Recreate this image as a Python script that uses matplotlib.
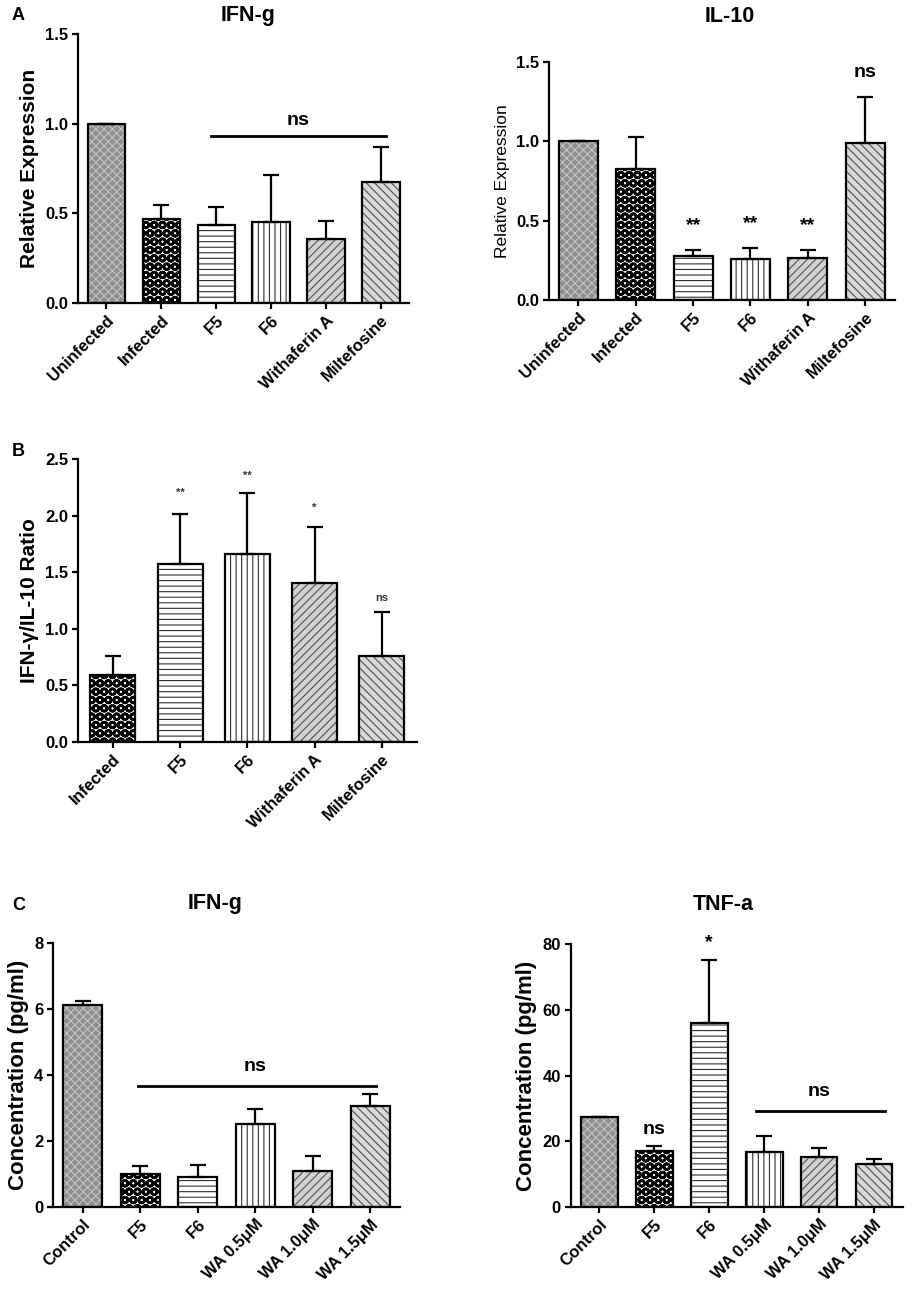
import numpy as np
import matplotlib
matplotlib.use("Agg")
import matplotlib.pyplot as plt

plt.rcParams['font.family'] = ['Liberation Sans', 'DejaVu Sans']
plt.rcParams['hatch.linewidth'] = 0.8

# ---- data ----
a_labels = ["Uninfected", "Infected", "F5", "F6", "Withaferin A", "Miltefosine"]
a_styles = ["gray", "dots", "hlines", "vlines", "diag", "adiag"]

ifn_rel = [1.00, 0.466, 0.436, 0.453, 0.356, 0.676]
ifn_rel_top = [1.00, 0.546, 0.538, 0.713, 0.458, 0.870]

il10_rel = [1.00, 0.827, 0.278, 0.257, 0.263, 0.990]
il10_rel_top = [1.00, 1.025, 0.316, 0.326, 0.316, 1.278]
il10_marks = ["", "", "**", "**", "**", "ns"]

b_labels = ["Infected", "F5", "F6", "Withaferin A", "Miltefosine"]
b_styles = ["dots", "hlines", "vlines", "diag", "adiag"]
ratio = [0.59, 1.57, 1.66, 1.40, 0.76]
ratio_top = [0.76, 2.01, 2.20, 1.90, 1.15]
ratio_marks = ["", "**", "**", "*", "ns"]
ratio_mark_y = [0, 2.20, 2.35, 2.07, 1.27]

c_labels = ["Control", "F5", "F6", "WA 0.5\u03bcM", "WA 1.0\u03bcM", "WA 1.5\u03bcM"]
c_styles = ["gray", "dots", "hlines", "vlines", "diag", "adiag"]
ifn_conc = [6.11, 1.01, 0.91, 2.52, 1.10, 3.07]
ifn_conc_top = [6.23, 1.25, 1.28, 2.97, 1.56, 3.42]
tnf_conc = [27.5, 17.1, 56.1, 16.7, 15.1, 13.1]
tnf_conc_top = [27.5, 18.6, 75.1, 21.7, 17.9, 14.6]

STYLE = {
    "gray":   dict(face="#8e8e8e", hatch="xxxx", hcolor="#c4c4c4"),
    "dots":   dict(face="white", hatch="OO", hcolor="black"),
    "hlines": dict(face="white", hatch="---", hcolor="#303030"),
    "vlines": dict(face="white", hatch="|||", hcolor="#303030"),
    "diag":   dict(face="#d2d2d2", hatch="////", hcolor="#505050"),
    "adiag":  dict(face="#dadada", hatch="\\\\\\\\", hcolor="#505050"),
}


def draw_bars(ax, vals, tops, styles, width=0.68):
    x = np.arange(len(vals))
    for xi, v, s in zip(x, vals, styles):
        st = STYLE[s]
        b = ax.bar(xi, v, width, color=st["face"], hatch=st["hatch"],
                   edgecolor=st["hcolor"], linewidth=0, zorder=2)
        if s == "dots":
            for p in b:
                if hasattr(p, "set_hatch_linewidth"):
                    p.set_hatch_linewidth(1.9)
        ax.bar(xi, v, width, fill=False, edgecolor="black", linewidth=1.6, zorder=3)
    err = np.array(tops) - np.array(vals)
    ax.errorbar(x, vals, yerr=[np.zeros(len(vals)), err], fmt="none",
                ecolor="black", elinewidth=1.6, capsize=5.5, capthick=1.6, zorder=4)
    return x


def style_axis(ax, labels, ylim, yticks, ylabel, tickfmt, ylabel_bold=True, ylsize=15):
    for side in ("top", "right"):
        ax.spines[side].set_visible(False)
    for side in ("left", "bottom"):
        ax.spines[side].set_linewidth(1.6)
    ax.set_xlim(-0.52, len(labels) - 0.48)
    ax.set_ylim(*ylim)
    ax.set_yticks(yticks)
    ax.set_yticklabels([tickfmt.format(t) for t in yticks], fontsize=12, fontweight="bold")
    ax.set_xticks(np.arange(len(labels)))
    ax.set_xticklabels(labels, rotation=45, ha="right", rotation_mode="anchor",
                       fontsize=12, fontweight="bold")
    ax.tick_params(axis="both", direction="out", length=4, width=1.6, pad=3)
    ax.set_ylabel(ylabel, fontsize=ylsize, fontweight="bold" if ylabel_bold else "normal")


fig = plt.figure(figsize=(9.16, 13.09), dpi=100)


def fig_title(xpix, ypix, s):
    fig.text(xpix / 916, 1 - ypix / 1309, s, fontsize=15.5, fontweight="bold",
             ha="center", va="center")


# ---- A: IFN-g relative expression ----
ax1 = fig.add_axes([0.085, 0.7685, 0.362, 0.2055])
draw_bars(ax1, ifn_rel, ifn_rel_top, a_styles)
style_axis(ax1, a_labels, (0, 1.5), [0, 0.5, 1.0, 1.5], "Relative Expression", "{:.1f}")
ax1.plot([1.9, 5.1], [0.93, 0.93], color="black", lw=2, zorder=5)
ax1.text(3.5, 0.97, "ns", ha="center", va="bottom", fontsize=14, fontweight="bold")
fig_title(248, 16, "IFN-g")

# ---- A: IL-10 relative expression ----
ax2 = fig.add_axes([0.599, 0.7708, 0.378, 0.1818])
x2 = draw_bars(ax2, il10_rel, il10_rel_top, a_styles)
style_axis(ax2, a_labels, (0, 1.5), [0, 0.5, 1.0, 1.5], "Relative Expression", "{:.1f}",
           ylabel_bold=False, ylsize=12.5)
for xi, t, m in zip(x2, il10_rel_top, il10_marks):
    if m:
        ax2.text(xi, t + 0.1, m, ha="center", va="bottom", fontsize=14, fontweight="bold")
fig_title(730, 17, "IL-10")

# ---- B: ratio ----
ax3 = fig.add_axes([0.085, 0.4332, 0.370, 0.2162])
x3 = draw_bars(ax3, ratio, ratio_top, b_styles, width=0.67)
style_axis(ax3, b_labels, (0, 2.5), [0, 0.5, 1.0, 1.5, 2.0, 2.5],
           "IFN-\u03b3/IL-10 Ratio", "{:.1f}")
for xi, y, m in zip(x3, ratio_mark_y, ratio_marks):
    if m:
        ax3.text(xi, y, m, ha="center", va="center", fontsize=8, color="#333333",
                 fontweight="bold")

# ---- C: IFN-g concentration ----
ax4 = fig.add_axes([0.0579, 0.0779, 0.379, 0.2017])
draw_bars(ax4, ifn_conc, ifn_conc_top, c_styles)
style_axis(ax4, c_labels, (0, 8), [0, 2, 4, 6, 8], "Concentration (pg/ml)", "{:d}",
           ylsize=16)
ax4.plot([0.95, 5.1], [3.66, 3.66], color="black", lw=2, zorder=5)
ax4.text(3.0, 4.0, "ns", ha="center", va="bottom", fontsize=14, fontweight="bold")
fig_title(215, 903, "IFN-g")

# ---- C: TNF-a concentration ----
ax5 = fig.add_axes([0.623, 0.0779, 0.3624, 0.2009])
draw_bars(ax5, tnf_conc, tnf_conc_top, c_styles, width=0.67)
style_axis(ax5, c_labels, (0, 80), [0, 20, 40, 60, 80], "Concentration (pg/ml)", "{:d}",
           ylsize=16)
ax5.plot([2.85, 5.2], [29.1, 29.1], color="black", lw=2, zorder=5)
ax5.text(4.0, 32.5, "ns", ha="center", va="bottom", fontsize=14, fontweight="bold")
ax5.text(1, 21.0, "ns", ha="center", va="bottom", fontsize=14, fontweight="bold")
ax5.text(2, 78.0, "*", ha="center", va="bottom", fontsize=14, fontweight="bold")
fig_title(723, 905, "TNF-a")

# panel letters
for letter, ypix in (("A", 15), ("B", 452), ("C", 905)):
    fig.text(12 / 916, 1 - ypix / 1309, letter, fontsize=13, fontweight="bold",
             ha="left", va="center")

fig.savefig("out.png", dpi=100)
